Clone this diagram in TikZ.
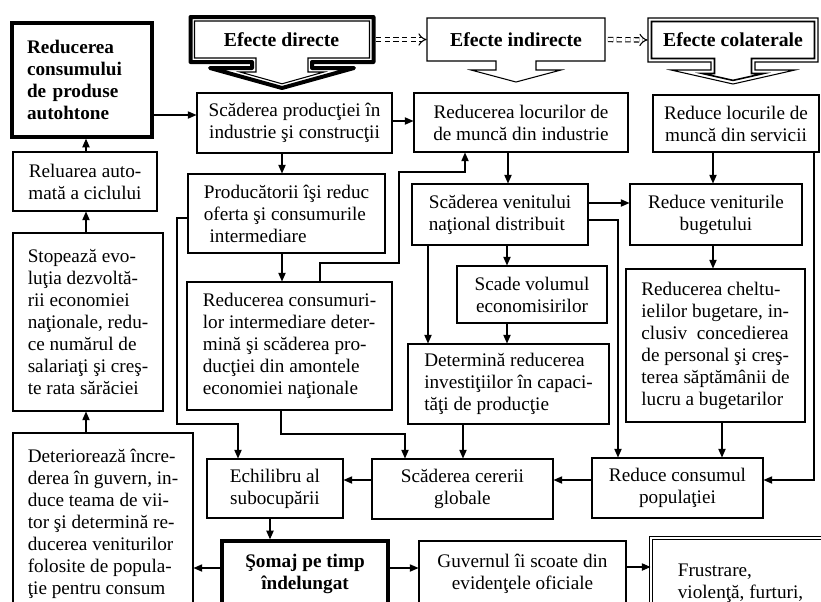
\documentclass[tikz,border=0pt]{standalone}
\usepackage{fontspec}
\setmainfont{Liberation Serif}
\usetikzlibrary{arrows.meta}

% #1 style, #2 centre x, #3 half width, #4 top, #5 box bottom, #6 stem half width, #7 head half width, #8 head top, #9 tip
\newcommand{\effectshape}[9]{%
  \draw[#1] (#2-#3,#4) -- (#2+#3,#4) -- (#2+#3,#5) -- (#2+#6,#5) -- (#2+#6,#8) -- (#2+#7,#8)
    -- (#2,#9) -- (#2-#7,#8) -- (#2-#6,#8) -- (#2-#6,#5) -- (#2-#3,#5) -- cycle;}

\tikzset{
  box/.style={draw, line width=0.8pt, inner sep=2pt, align=center},
  leftbox/.style={box, align=left},
  boldbox/.style={box, line width=2.5pt, font=\fontsize{14.4}{16.5}\selectfont\bfseries},
  doublebox/.style={box, align=left, double, double distance=1.8pt, line width=0.7pt},
  title/.style={inner sep=0pt, font=\fontsize{14.8}{17}\selectfont\bfseries},
  bw/.style={minimum width=#1*0.75pt},
  bh/.style={minimum height=#1*0.75pt},
  arr/.style={line width=0.8pt, -{Triangle[length=6.5pt,width=5.5pt]}},
  dasharr/.style={line width=0.8pt, dash pattern=on 4pt off 2.5pt, double, double distance=2.4pt, -{Implies}, shorten <=2pt}
}

\begin{document}
\begin{tikzpicture}[x=0.75pt, y=-0.75pt,
  every node/.style={font=\fontsize{14.4}{16.5}\selectfont}]
\useasboundingbox (0,0) rectangle (821,601);
\clip (0,0) rectangle (821,601);

% header arrows
\effectshape{line width=3pt, line join=round}{282}{91.5}{17}{62}{30}{72}{68}{88}
\effectshape{line width=0.8pt}{282}{87.5}{21}{58}{26}{42}{72}{83.8}
\effectshape{line width=0.8pt}{516}{89}{18}{61}{20}{45}{70}{82}
\effectshape{line width=0.8pt}{733}{85}{18}{62}{22}{62}{70}{84}
\effectshape{line width=1.2pt}{733}{81.5}{21.5}{58.5}{18.5}{30.6}{73.5}{80.4}

\node[title, bw=183, bh=45] (efdir) at (281.5,39.5) {Efecte directe};
\node[title, bw=178, bh=43] (efind) at (516,39.5) {Efecte indirecte};
\node[title, bw=170, bh=44] (efcol) at (733,40) {Efecte colaterale};

% left column
\node[boldbox, bw=140, bh=114, align=left, text width=110*0.75pt] (redprod) at (82,80)
  {Reducerea\\consumului\\de produse\\autohtone};
\node[box, bw=144, bh=59] (reluare) at (85,181.5) {Reluarea auto-\\mată a ciclului};
\node[leftbox, bw=150, bh=178] (stopeaza) at (88,322)
  {Stopează evo-\\luţia dezvoltă-\\rii economiei\\naţionale, redu-\\ce numărul de\\salariaţi şi creş-\\te rata sărăciei};
\node[leftbox, bw=180, bh=182] (deterior) at (103,524)
  {Deteriorează încre-\\derea în guvern, in-\\duce teama de vii-\\tor şi determină re-\\ducerea veniturilor\\folosite de popula-\\ţie pentru consum};

% direct effects
\node[box, bw=195, bh=60] (scprod) at (294.5,123) {Scăderea producţiei în\\industrie şi construcţii};
\node[leftbox, bw=197, bh=79] (producatori) at (286.5,213.5)
  {Producătorii îşi reduc\\oferta şi consumurile\\\hspace{0.3em}intermediare};
\node[leftbox, bw=205, bh=128] (redcons) at (289.5,346)
  {Reducerea consumuri-\\lor intermediare deter-\\mină şi scăderea pro-\\ducţiei din amontele\\economiei naţionale};

% indirect effects
\node[box, bw=214, bh=59] (locind) at (521,122.5) {Reducerea locurilor de\\de muncă din industrie};
\node[leftbox, bw=176, bh=61] (venit) at (500,214.5) {Scăderea venitului\\naţional distribuit};
\node[box, bw=150, bh=57] (volum) at (532,294.5) {Scade volumul\\economisirilor};
\node[leftbox, bw=201, bh=80] (invest) at (508.5,384)
  {Determină reducerea\\investiţiilor în capaci-\\tăţi de producţie};

% collateral effects
\node[box, bw=166, bh=57] (locserv) at (736,123.5) {Reduce locurile de\\muncă din servicii};
\node[box, bw=172, bh=61] (venbug) at (716,214.5) {Reduce veniturile\\bugetului};
\node[leftbox, bw=179, bh=153] (chelt) at (715.5,345.5)
  {Reducerea cheltu-\\ielilor bugetare, in-\\clusiv~~concedierea\\de personal şi creş-\\terea săptămânii de\\lucru a bugetarilor};

% bottom rows
\node[box, bw=136, bh=59] (echil) at (275,488.5) {Echilibru al\\subocupării};
\node[box, bw=181, bh=60] (cerere) at (462.5,489) {Scăderea cererii\\globale};
\node[box, bw=171, bh=60] (consum) at (677.5,488) {Reduce consumul\\populaţiei};
\node[boldbox, bw=166, bh=65] (somaj) at (305,573.5) {Şomaj pe timp\\îndelungat};
\node[box, bw=207, bh=65] (guvern) at (522.5,573.5) {Guvernul îi scoate din\\evidenţele oficiale};
\node[doublebox, bw=179, bh=90] (frustr) at (740.5,583) {Frustrare,\\violenţă, furturi,};

\draw[dasharr] (efdir.east) -- (efind.west);
\draw[dasharr] (efind.east) -- (efcol.west);

\draw[arr] (redprod.east |- 0,115) -- (scprod.west |- 0,115);
\draw[arr] (reluare.north -| 86,0) -- (redprod.south -| 86,0);
\draw[arr] (stopeaza.north -| 86,0) -- (reluare.south -| 86,0);
\draw[arr] (deterior.north -| 86,0) -- (stopeaza.south -| 86,0);
\draw[arr] (scprod.south -| 282,0) -- (producatori.north -| 282,0);
\draw[arr] (scprod.east |- 0,121) -- (locind.west |- 0,121);
\draw[arr] (producatori.south -| 282,0) -- (redcons.north -| 282,0);
\draw[arr] (redcons.north -| 320,0) |- (399,263) |- (465,172) -- (locind.south -| 465,0);
\draw[arr] (producatori.west |- 0,218) -| (177,424) -| (echil.north -| 238,0);
\draw[arr] (redcons.south -| 281,0) |- (405,434) -- (cerere.north -| 405,0);
\draw[arr] (invest.south -| 463,0) -- (cerere.north -| 463,0);
\draw[arr] (consum.west |- 0,480) -- (cerere.east |- 0,480);
\draw[arr] (cerere.west |- 0,480) -- (echil.east |- 0,480);
\draw[arr] (echil.south -| 270,0) -- (somaj.north -| 270,0);
\draw[arr] (somaj.west |- 0,568) -- (deterior.east |- 0,568);
\draw[arr] (somaj.east |- 0,568) -- (guvern.west |- 0,568);
\draw[arr] (guvern.east |- 0,567) -- (frustr.west |- 0,567);

\draw[arr] (locind.south -| 508,0) -- (venit.north -| 508,0);
\draw[arr] (locserv.south -| 713,0) -- (venbug.north -| 713,0);
\draw[arr] (locserv.south -| 814,0) |- (consum.east |- 0,480);
\draw[arr] (venit.east |- 0,203) -- (venbug.west |- 0,203);
\draw[arr] (venit.east |- 0,220) -| (consum.north -| 618,0);
\draw[arr] (venit.south -| 507,0) -- (volum.north -| 507,0);
\draw[arr] (venit.south -| 428,0) -- (invest.north -| 428,0);
\draw[arr] (volum.south -| 507,0) -- (invest.north -| 507,0);
\draw[arr] (venbug.south -| 713,0) -- (chelt.north -| 713,0);
\draw[arr] (chelt.south -| 722,0) -- (consum.north -| 722,0);
\end{tikzpicture}
\end{document}
